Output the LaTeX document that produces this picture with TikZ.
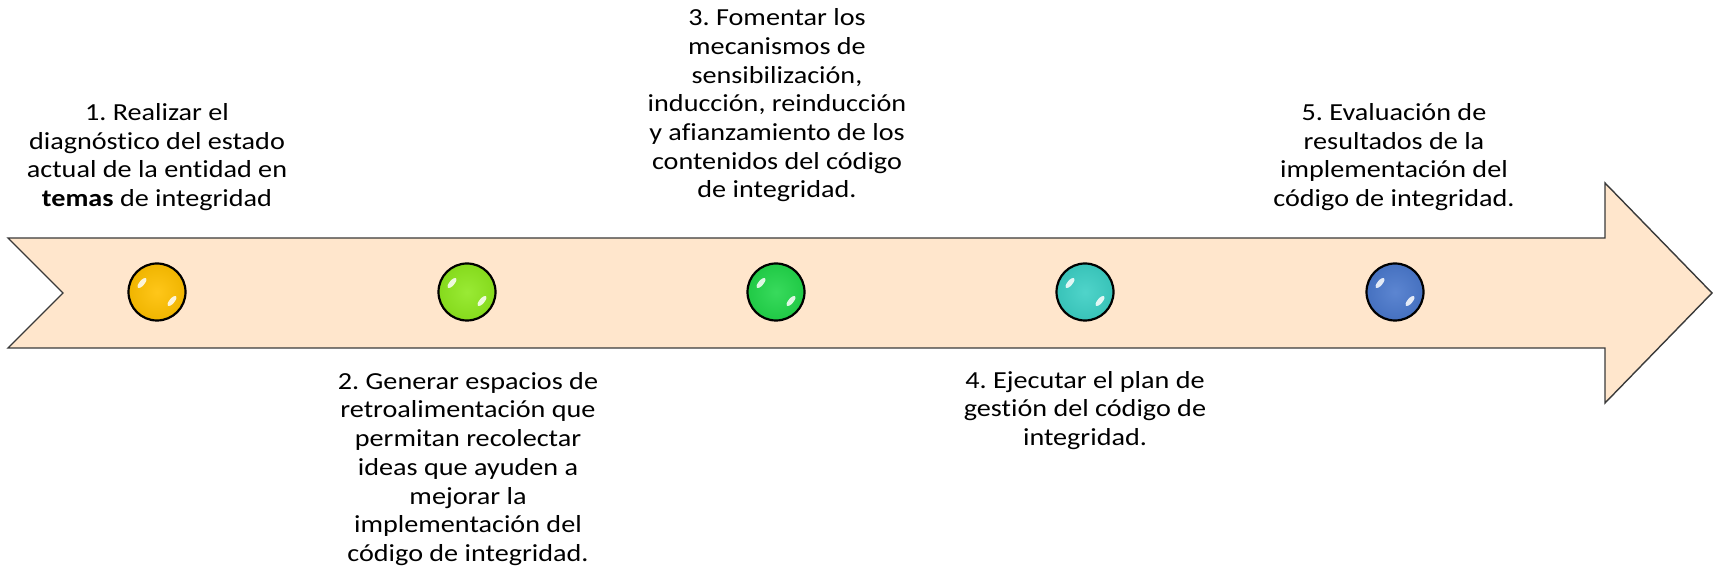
\documentclass[tikz,border=0pt]{standalone}
\usepackage{fontspec}
\setmainfont[FakeStretch=1.15,Ligatures=NoCommon]{Carlito}
\frenchspacing
\definecolor{peach}{HTML}{FFE6CC}
\definecolor{edge}{HTML}{3A3A3A}
\definecolor{cA}{HTML}{FFC000}
\definecolor{cB}{HTML}{8EE81E}
\definecolor{cC}{HTML}{22D64A}
\definecolor{cD}{HTML}{3CCFC4}
\definecolor{cE}{HTML}{4A78CC}
\begin{document}
\begin{tikzpicture}[x=1pt,y=1pt,
  lbl/.style={align=center,inner sep=0pt,font=\fontsize{24.5}{28.7}\selectfont},
  ball/.style={circle,minimum size=57pt,inner sep=0pt,draw=black,line width=2.2pt,
    inner color=#1!90!white,outer color=#1!94!black},
]
\useasboundingbox (0,0) rectangle (1713,577);
% arrow
\draw[edge,line width=1.4pt,fill=peach,line join=miter]
  (8,339) -- (1605,339) -- (1605,394) -- (1712,284) -- (1605,174) -- (1605,229)
  -- (8,229) -- (63,284) -- cycle;
% balls
\foreach \n/\x/\c in {1/157/cA,2/467/cB,3/776/cC,4/1085/cD,5/1395/cE}{
  \node[ball=\c] (c\n) at (\x,285) {};
  \fill[white,opacity=0.85,rotate around={-40:(\x-15,294)}] (\x-15,294) ellipse (2.5pt and 6.5pt);
  \fill[white,opacity=0.85,rotate around={-40:(\x+15,276)}] (\x+15,276) ellipse (2.5pt and 6.5pt);
}
% labels
\node[lbl] (t1) at (157,420) {1. Realizar el\\diagnóstico del estado\\actual de la entidad en\\\textbf{temas} de integridad};
\node[lbl] (t3) at (777,471.5) {3. Fomentar los\\mecanismos de\\sensibilización,\\inducción, reinducción\\y afianzamiento de los\\contenidos del código\\de integridad.};
\node[lbl] (t5) at (1394,420) {5. Evaluación de\\resultados de la\\implementación del\\código de integridad.};
\node[lbl] (t2) at (468,108) {2. Generar espacios de\\retroalimentación que\\permitan recolectar\\ideas que ayuden a\\mejorar la\\implementación del\\código de integridad.};
\node[lbl] (t4) at (1085,166.5) {4. Ejecutar el plan de\\gestión del código de\\integridad.};
\end{tikzpicture}
\end{document}
